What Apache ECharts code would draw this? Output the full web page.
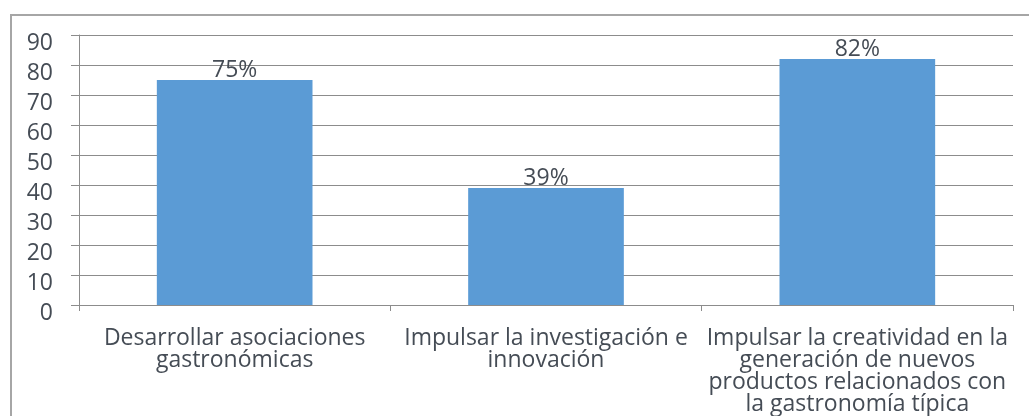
<!DOCTYPE html>
<html>
<head>
<meta charset="utf-8">
<script src="https://cdn.jsdelivr.net/npm/echarts@6/dist/echarts.min.js"></script>
<style>
	html, body { margin: 0; padding: 0; background: #fff; }
	.frame {
		position: absolute;
		left: 10px; top: 14px;
		width: 1040px; height: 420px;
		border: 2px solid #a6a6a6;
	}
	#chart {
		position: absolute;
		left: 0; top: 0;
		width: 1029px; height: 416px;
	}
</style>
</head>
<body>
<div class="frame"></div>
<div id="chart"></div>
<script>
	// categorias (saltos de linea como en el original)
	var categorias = [
		'Desarrollar asociaciones\ngastronómicas',
		'Impulsar la investigación e\ninnovación',
		'Impulsar la creatividad en la\ngeneración de nuevos\nproductos relacionados con\nla gastronomía típica'
	];
	var valores = [75, 39, 82];
	var etiquetas = ['75%', '39%', '82%'];

	var fuente = 'Open Sans';
	var texto = '#454c55';

	var myChart = echarts.init(document.getElementById('chart'));
	var option = {
		animation: false,
		grid: { left: 79, right: 16, top: 35, bottom: 111 },
		xAxis: {
			type: 'category',
			data: categorias,
			axisLine: { lineStyle: { color: '#8c8c8c', width: 1 } },
			axisTick: { show: true, length: 6, lineStyle: { color: '#8c8c8c' } },
			axisLabel: {
				interval: 0,
				margin: 22,
				fontFamily: fuente,
				fontSize: 23,
				lineHeight: 22,
				color: texto
			}
		},
		yAxis: {
			type: 'value',
			min: 0, max: 90, interval: 10,
			axisLine: { show: true, lineStyle: { color: '#8c8c8c' } },
			axisTick: { show: true, length: 8, lineStyle: { color: '#8c8c8c' } },
			splitLine: { lineStyle: { color: '#8c8c8c' } },
			axisLabel: {
				margin: 26,
				fontFamily: fuente,
				fontSize: 23,
				lineHeight: 23,
				color: texto,
				verticalAlign: 'top',
				padding: [-3, 0, 0, 0]
			}
		},
		series: [{
			type: 'bar',
			data: valores,
			barWidth: '50%',
			itemStyle: { color: '#5b9bd5' },
			label: {
				show: true,
				position: 'top',
				distance: -2,
				fontFamily: fuente,
				fontSize: 23,
				color: texto,
				formatter: function (p) { return etiquetas[p.dataIndex]; }
			}
		}]
	};
	myChart.setOption(option);
</script>
</body>
</html>
